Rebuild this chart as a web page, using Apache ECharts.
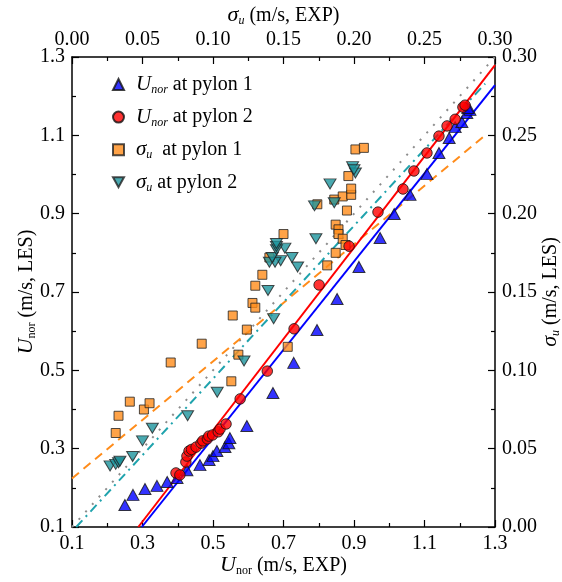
<!DOCTYPE html>
<html>
<head>
<meta charset="utf-8">
<script src="https://cdn.jsdelivr.net/npm/echarts@6/dist/echarts.min.js"></script>
<style>
  html, body { margin: 0; padding: 0; background: #fff; }
  #container { width: 562px; height: 582px; }
</style>
</head>
<body>
<div id="container"></div>
<script>
// U_nor: [EXP, LES] (bottom / left axes)
let unorPylon1 = [
  [0.250, 0.156], [0.273, 0.182], [0.307, 0.197], [0.341, 0.205], [0.370, 0.215],
  [0.398, 0.225], [0.426, 0.245], [0.463, 0.258], [0.489, 0.271], [0.500, 0.281],
  [0.511, 0.294], [0.534, 0.304], [0.545, 0.314], [0.548, 0.327], [0.596, 0.358],
  [0.670, 0.442], [0.729, 0.519], [0.795, 0.603], [0.852, 0.682], [0.914, 0.764],
  [0.974, 0.838], [1.014, 0.899], [1.059, 0.948], [1.107, 1.001], [1.141, 1.055],
  [1.170, 1.093], [1.187, 1.121], [1.206, 1.134], [1.220, 1.157], [1.229, 1.165],
  [1.223, 1.170]
];
let unorPylon2 = [
  [0.395, 0.238], [0.406, 0.233], [0.423, 0.266], [0.426, 0.281], [0.432, 0.294],
  [0.439, 0.298], [0.452, 0.304], [0.466, 0.314], [0.471, 0.320], [0.484, 0.325],
  [0.488, 0.332], [0.499, 0.335], [0.515, 0.343], [0.520, 0.350], [0.537, 0.363],
  [0.577, 0.427], [0.654, 0.498], [0.730, 0.606], [0.801, 0.718], [0.886, 0.817],
  [0.968, 0.904], [1.039, 0.963], [1.070, 1.009], [1.107, 1.055], [1.141, 1.098],
  [1.164, 1.124], [1.187, 1.141], [1.209, 1.172], [1.215, 1.177]
];
// sigma_u: [EXP, LES] (top / right axes)
let sigmaPylon1 = [
  [0.031, 0.060], [0.033, 0.071], [0.041, 0.080], [0.051, 0.075], [0.055, 0.079],
  [0.070, 0.105], [0.092, 0.117], [0.113, 0.093], [0.118, 0.110], [0.114, 0.135],
  [0.124, 0.126], [0.128, 0.143], [0.130, 0.140], [0.130, 0.154], [0.135, 0.161],
  [0.140, 0.172], [0.150, 0.187], [0.153, 0.115], [0.181, 0.167], [0.187, 0.175],
  [0.187, 0.193], [0.189, 0.190], [0.189, 0.187], [0.192, 0.184], [0.194, 0.180],
  [0.195, 0.202], [0.174, 0.206], [0.186, 0.209], [0.192, 0.211], [0.198, 0.212],
  [0.198, 0.216], [0.196, 0.224], [0.201, 0.241], [0.207, 0.242]
];
let sigmaPylon2 = [
  [0.027, 0.039], [0.031, 0.040], [0.033, 0.041], [0.034, 0.042], [0.043, 0.045],
  [0.050, 0.055], [0.057, 0.063], [0.082, 0.071], [0.103, 0.086], [0.122, 0.106],
  [0.143, 0.133], [0.139, 0.151], [0.160, 0.166], [0.156, 0.172], [0.148, 0.170],
  [0.144, 0.169], [0.140, 0.169], [0.142, 0.172], [0.151, 0.178], [0.145, 0.177],
  [0.145, 0.179], [0.145, 0.181], [0.173, 0.184], [0.172, 0.205], [0.186, 0.207],
  [0.183, 0.219], [0.199, 0.230], [0.201, 0.226], [0.200, 0.228]
];
// fitted lines (end points)
let fitPylon1 = [[0.298, 0.1], [1.3, 1.228]];
let fitPylon2 = [[0.288, 0.1], [1.3, 1.279]];
let fitSigma1 = [[0.0, 0.031], [0.293, 0.250]];
let fitSigma2 = [[0.003, 0.0], [0.293, 0.283]];
let oneToOne = [[0.1, 0.1], [1.3, 1.3]];

let font = 'Liberation Serif';
let downTri = 'path://M0,0 L10,0 L5,9 Z';

let legendLabels = {
  'U1': '{sp|}{i|U}{s|nor} at pylon 1',
  'U2': '{sp|}{i|U}{s|nor} at pylon 2',
  'S1': '{sp|}{i|σ}{s|u}  at pylon 1',
  'S2': '{sp|}{i|σ}{s|u} at pylon 2',
};

function axisBase(extra) {
  return Object.assign({
    type: 'value',
    axisLine: { show: true, onZero: false, lineStyle: { color: '#000', width: 1.5 } },
    axisTick: { show: true, inside: true, length: 7, lineStyle: { color: '#000', width: 1.2 } },
    minorTick: { show: true, splitNumber: 2, length: 4, lineStyle: { color: '#000', width: 1.2 } },
    splitLine: { show: false },
    nameLocation: 'middle',
    nameMoveOverlap: false,
    nameTextStyle: {
      color: '#000', fontFamily: font, fontSize: 20,
      rich: {
        i: { fontFamily: font, fontStyle: 'italic', fontSize: 22, color: '#000' },
        s: { fontFamily: font, fontSize: 12, color: '#000', padding: [11, 0, 0, 0] },
        si: { fontFamily: font, fontStyle: 'italic', fontSize: 12, color: '#000', padding: [11, 0, 0, 0] },
      },
    },
  }, extra);
}

function tickLabels(margin, digits) {
  return { color: '#000', fontFamily: font, fontSize: 20, margin: margin, formatter: (v) => v.toFixed(digits) };
}

let myChart = echarts.init(document.getElementById('container'));

let option = {
  animation: false,
  backgroundColor: '#fff',
  grid: { left: 72, right: 67, top: 57, bottom: 55, outerBoundsMode: 'none', containLabel: false },
  legend: {
    orient: 'vertical',
    left: 107,
    top: 69,
    itemWidth: 11,
    itemHeight: 11,
    itemGap: 10.6,
    data: [
      { name: 'U1', icon: 'triangle' },
      { name: 'U2', icon: 'circle' },
      { name: 'S1', icon: 'rect' },
      { name: 'S2', icon: downTri },
    ],
    formatter: (name) => legendLabels[name],
    textStyle: {
      color: '#000', fontFamily: font, fontSize: 20,
      rich: {
        sp: { width: 7 },
        i: { fontFamily: font, fontStyle: 'italic', fontSize: 21, color: '#000' },
        s: { fontFamily: font, fontStyle: 'italic', fontSize: 12, color: '#000', padding: [11, 0, 0, 0] },
      },
    },
  },
  xAxis: [
    axisBase({
      position: 'bottom', min: 0.1, max: 1.3, interval: 0.2,
      axisLabel: tickLabels(7, 1),
      name: '{i|U}{s|nor} (m/s, EXP)', nameGap: 27,
    }),
    axisBase({
      position: 'top', min: 0, max: 0.3, interval: 0.05,
      axisLabel: tickLabels(7, 2),
      name: '{i|σ}{si|u} (m/s, EXP)', nameGap: 30,
    }),
  ],
  yAxis: [
    axisBase({
      position: 'left', min: 0.1, max: 1.3, interval: 0.2,
      axisLabel: tickLabels(7, 1),
      name: '{i|U}{s|nor} (m/s, LES)', nameGap: 34,
    }),
    axisBase({
      position: 'right', min: 0, max: 0.3, interval: 0.05,
      axisLabel: tickLabels(7, 2),
      name: '{i|σ}{si|u} (m/s, LES)', nameGap: 44,
    }),
  ],
  series: [
    {
      name: 'oneToOne', type: 'line', xAxisIndex: 0, yAxisIndex: 0,
      data: oneToOne, symbol: 'none', silent: true, z: 1,
      lineStyle: { color: '#8c8c8c', width: 2, type: [2, 8] },
    },
    {
      name: 'fitS1', type: 'line', xAxisIndex: 1, yAxisIndex: 1,
      data: fitSigma1, symbol: 'none', silent: true, z: 1,
      lineStyle: { color: '#ff8c1a', width: 2, type: [9, 6] },
    },
    {
      name: 'fitS2', type: 'line', xAxisIndex: 1, yAxisIndex: 1,
      data: fitSigma2, symbol: 'none', silent: true, z: 1,
      lineStyle: { color: '#1fa3ad', width: 2, type: [9, 5, 2, 5] },
    },
    {
      name: 'fitU1', type: 'line', xAxisIndex: 0, yAxisIndex: 0,
      data: fitPylon1, symbol: 'none', silent: true, z: 1,
      lineStyle: { color: '#0000ff', width: 2 },
    },
    {
      name: 'fitU2', type: 'line', xAxisIndex: 0, yAxisIndex: 0,
      data: fitPylon2, symbol: 'none', silent: true, z: 1,
      lineStyle: { color: '#ff0000', width: 2 },
    },
    {
      name: 'S1', type: 'scatter', xAxisIndex: 1, yAxisIndex: 1,
      data: sigmaPylon1, symbol: 'rect', symbolSize: 9, z: 3,
      itemStyle: { color: '#ff8c1a', borderColor: '#222', borderWidth: 1 },
    },
    {
      name: 'S2', type: 'scatter', xAxisIndex: 1, yAxisIndex: 1,
      data: sigmaPylon2, symbol: downTri, symbolSize: [12, 10], z: 3,
      itemStyle: { color: '#1b949c', borderColor: '#222', borderWidth: 1 },
    },
    {
      name: 'U1', type: 'scatter', xAxisIndex: 0, yAxisIndex: 0,
      data: unorPylon1, symbol: 'triangle', symbolSize: [12, 11], z: 4,
      itemStyle: { color: '#0000ff', borderColor: '#111', borderWidth: 1 },
    },
    {
      name: 'U2', type: 'scatter', xAxisIndex: 0, yAxisIndex: 0,
      data: unorPylon2, symbol: 'circle', symbolSize: 10.5, z: 4,
      itemStyle: { color: '#ff0000', borderColor: '#111', borderWidth: 1 },
    },
  ],
};

myChart.setOption(option);
</script>
</body>
</html>
